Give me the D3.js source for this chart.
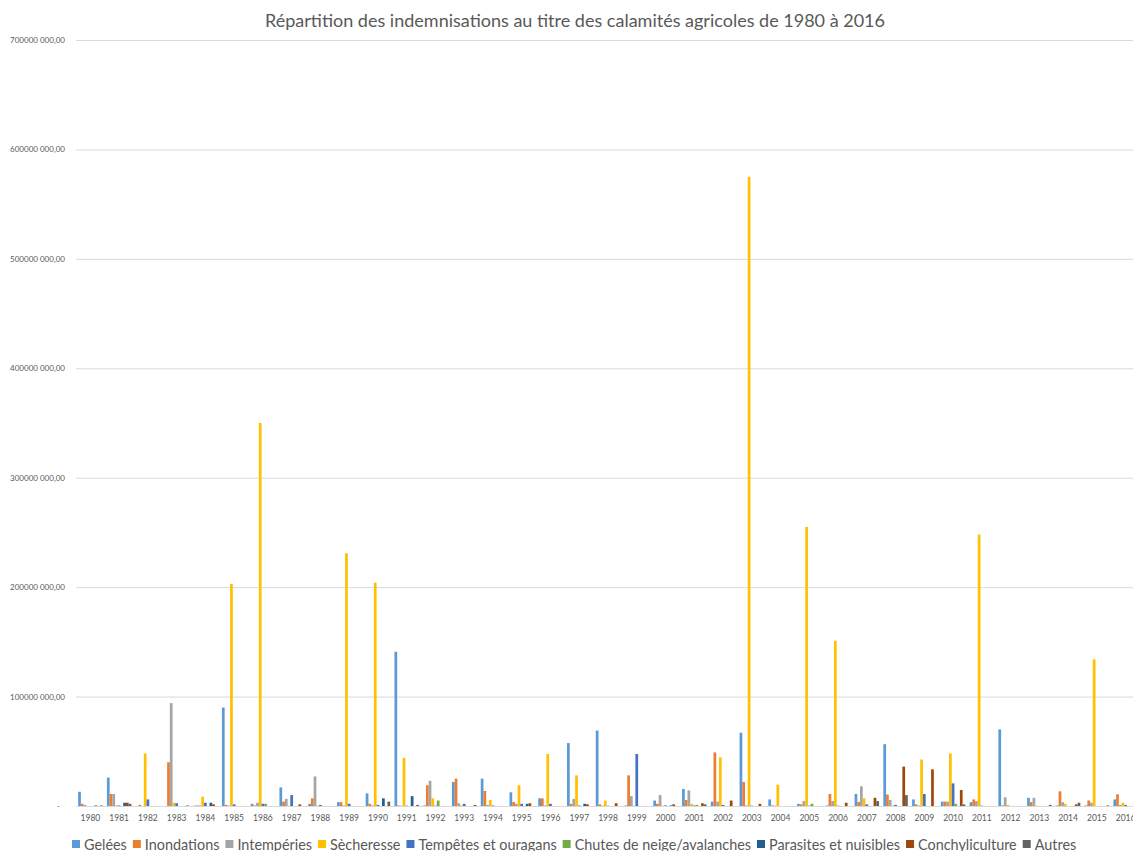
<!DOCTYPE html>
<html>
<head>
<meta charset="utf-8">
<script src="https://cdn.jsdelivr.net/npm/d3@7"></script>
<style>
  body { margin: 0; background: #fff; }
  svg { display: block; }
</style>
</head>
<body>
<div id="chart"></div>
<script>
// Années (catégories)
const years = d3.range(1980, 2017).map(String);

// Séries, en millions d'euros, une valeur par année de 1980 à 2016
const seriesNames = ["Gelées", "Inondations", "Intempéries", "Sècheresse", "Tempêtes et ouragans",
  "Chutes de neige/avalanches", "Parasites et nuisibles", "Conchyliculture", "Autres"];
const seriesColors = ["#5B9BD5", "#ED7D31", "#A5A5A5", "#FFC000", "#4472C4",
  "#70AD47", "#255E91", "#9E480E", "#636363"];

const gelees = [13, 26, 0, 0, 0.3, 90, 2, 17, 2, 3.5, 11.5, 141, 0.5, 22, 25, 12.5, 7, 57.5, 69, 0.5,
  5, 15.5, 4, 67, 6, 2, 0.5, 11, 56.5, 6, 4, 3.5, 70, 7.5, 0.5, 0.5, 6];
const inondations = [2, 11, 1, 40, 0.5, 1, 0.5, 4, 7, 3.5, 2, 0.5, 19, 25, 13.7, 3.7, 7, 2, 1.5, 28,
  2, 5.5, 49, 22, 0.5, 1.5, 11, 3.7, 10.5, 1.5, 4, 6, 0.5, 3.5, 13.4, 5, 10.7];
const intemperies = [1, 11, 0, 94, 0.5, 0.3, 3, 6.5, 27, 0.5, 0.5, 0.3, 23, 2.5, 1, 2, 0.5, 6.5, 0.3, 9,
  10, 14.3, 4, 0.5, 0.3, 4.5, 4.5, 18, 5.5, 0.5, 4, 4.5, 8, 7.5, 3.5, 3, 1];
const secheresse = [0, 0.5, 48, 3, 8.5, 203, 350, 0.3, 0.3, 231, 204, 44, 7, 0.5, 5.5, 19, 47.5, 28, 5, 0.3,
  0.3, 2, 44.5, 575, 19.5, 255, 151, 7, 0.5, 42.5, 48, 248, 1, 0.3, 2, 134, 3];
const tempetes = [0, 0.5, 6, 2.5, 3, 1.5, 2, 10, 1, 2, 1, 0.3, 0.3, 2, 0.5, 2, 2, 0.5, 0.3, 47.5,
  0.5, 0.5, 1, 0.3, 0, 0.3, 0.3, 1.5, 1, 11, 20.7, 0.3, 0, 0, 0, 0, 1];
const chutesNeige = [0, 0, 0, 0, 0, 0, 2, 0, 0, 0, 0, 0, 5, 0, 0, 0, 0, 0, 0, 0,
  0, 1, 0, 0, 0, 2, 0, 0, 0, 0, 2, 0, 0, 0, 0, 0, 0];
const parasites = [0.5, 3, 0, 0, 3, 0, 0, 0, 0, 0, 7, 9, 0, 0, 0, 2, 0, 2, 0, 0,
  0.5, 0, 0, 0, 0, 0, 0, 0, 0, 0, 0, 0, 0, 0, 0, 0, 0];
const conchyliculture = [0, 3, 0, 0, 1.5, 0, 0, 1.5, 0, 0, 0, 0, 0, 0, 0, 2.5, 0, 1.5, 2.5, 0,
  1.5, 2.5, 5, 2, 0, 0, 3, 7.5, 36, 33.5, 14.6, 0, 0, 0, 1.5, 0, 0];
const autres = [0.5, 2, 0, 0.5, 0, 0, 0, 0, 0, 0, 4, 1, 0, 1, 0, 0, 0, 0, 0, 0,
  0, 1.5, 0, 0, 0, 0, 0, 4.5, 10, 0, 1.5, 0, 0, 1, 3, 0.5, 0];

const seriesValues = [gelees, inondations, intemperies, secheresse, tempetes,
  chutesNeige, parasites, conchyliculture, autres];

const yTicks = [0, 100, 200, 300, 400, 500, 600, 700];
const title = "Répartition des indemnisations au titre des calamités agricoles de 1980 à 2016";

// Dimensions
const width = 1133, height = 851;
const margin = { top: 40, right: -7, bottom: 45, left: 76 };

const svg = d3.select("#chart").append("svg")
  .attr("width", width)
  .attr("height", height);

const x0 = d3.scaleBand()
  .domain(years)
  .range([margin.left, width - margin.right])
  .paddingInner(0.15)
  .paddingOuter(0.075);

const x1 = d3.scaleBand()
  .domain(seriesNames)
  .range([0, x0.bandwidth()]);

const y = d3.scaleLinear()
  .domain([0, 700])
  .range([height - margin.bottom, margin.top]);

// Grid lines + y labels
const yAxis = d3.axisLeft(y)
  .tickValues(yTicks)
  .tickSize(-(width - margin.right - margin.left))
  .tickPadding(11)
  .tickFormat(d => d === 0 ? "-" : `${d * 1000} 000,00`);

const gy = svg.append("g")
  .attr("transform", `translate(${margin.left},0)`)
  .call(yAxis);
gy.select(".domain").remove();
gy.selectAll(".tick line").attr("stroke", "#D9D9D9");
gy.selectAll(".tick text")
  .attr("fill", "#595959")
  .style("font-family", "Lato, 'Open Sans', sans-serif")
  .style("font-size", "8px");
gy.selectAll(".tick text").filter(d => d === 0).attr("dx", -5);

// Bars
const groups = svg.append("g").selectAll("g")
  .data(years)
  .join("g")
  .attr("transform", d => `translate(${x0(d)},0)`);

groups.selectAll("rect")
  .data((yr, i) => seriesNames.map((s, k) => ({ serie: s, color: seriesColors[k], value: seriesValues[k][i] })))
  .join("rect")
  .attr("x", d => x1(d.serie))
  .attr("width", x1.bandwidth())
  .attr("y", d => y(d.value))
  .attr("height", d => y(0) - y(d.value))
  .attr("fill", d => d.color);

// x labels
const xAxis = d3.axisBottom(x0).tickSize(0).tickPadding(9);
const gx = svg.append("g")
  .attr("transform", `translate(0,${y(0)})`)
  .call(xAxis);
gx.select(".domain").remove();
gx.selectAll(".tick text")
  .attr("fill", "#595959")
  .style("font-family", "Lato, 'Open Sans', sans-serif")
  .style("font-size", "8.5px");

// Title
svg.append("text")
  .attr("x", 575)
  .attr("y", 27)
  .attr("text-anchor", "middle")
  .attr("fill", "#595959")
  .attr("textLength", 620)
  .attr("lengthAdjust", "spacingAndGlyphs")
  .style("font-family", "Lato, 'Open Sans', sans-serif")
  .style("font-size", "17.5px")
  .text(title);

// Legend
const legend = svg.append("g").attr("class", "legend");
let lx = 72;
seriesNames.forEach((name, k) => {
  const item = legend.append("g").attr("transform", `translate(${lx},0)`);
  item.append("rect")
    .attr("x", 0)
    .attr("y", 840)
    .attr("width", 8)
    .attr("height", 8)
    .attr("fill", seriesColors[k]);
  const t = item.append("text")
    .attr("x", 12)
    .attr("y", 850)
    .attr("fill", "#595959")
    .style("font-family", "Lato, 'Open Sans', sans-serif")
    .style("font-size", "14.4px")
    .text(name);
  lx += 12 + t.node().getComputedTextLength() + 6;
});
</script>
</body>
</html>
